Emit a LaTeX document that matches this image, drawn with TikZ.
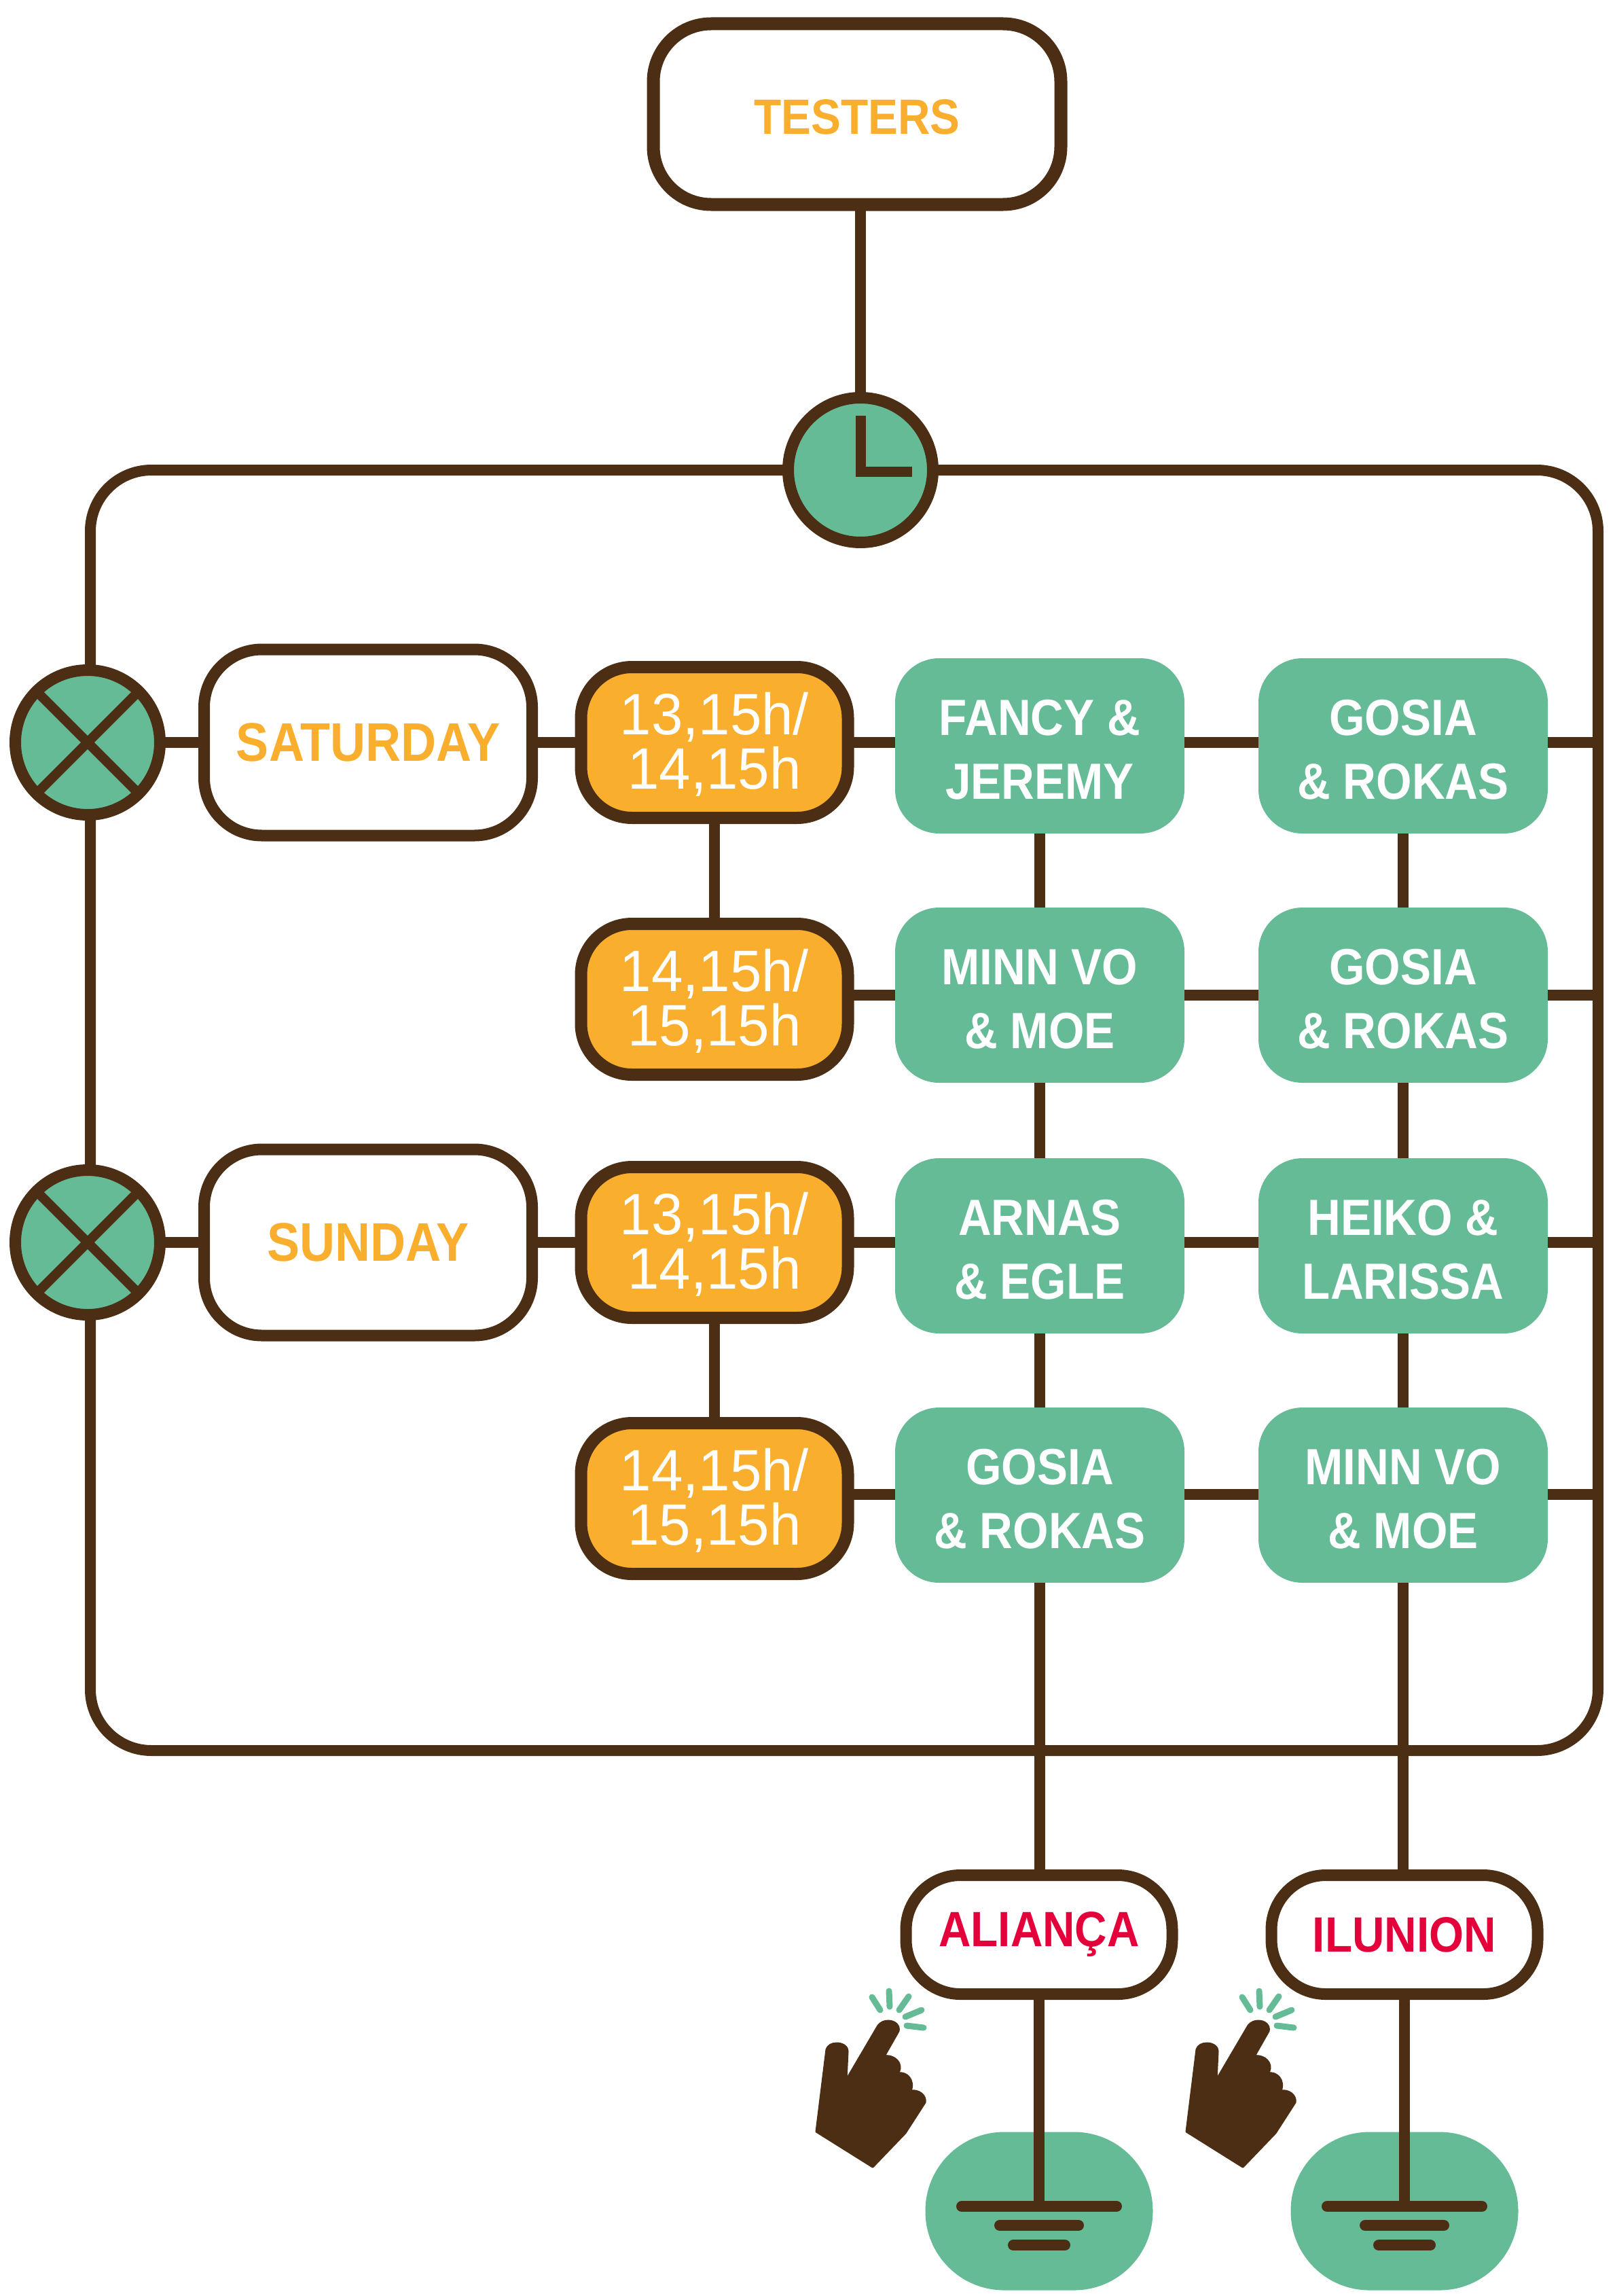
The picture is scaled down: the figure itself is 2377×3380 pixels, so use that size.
\documentclass[tikz,border=0pt]{standalone}
\usepackage{fontspec}
\usetikzlibrary{calc}
\newfontfamily\signfont[FakeStretch=0.97]{Liberation Sans}
\newfontfamily\signboldfont[FakeStretch=0.9]{Liberation Sans Bold}
\definecolor{wirebrown}{HTML}{4B2E14}
\definecolor{slotgreen}{HTML}{66BB97}
\definecolor{slotorange}{HTML}{F9AE2E}
\definecolor{sitered}{HTML}{E4003A}
\tikzset{x=1pt, y=-1pt,
  wire/.style={draw=wirebrown, line width=16pt},
  round box/.style={draw=wirebrown, fill=white, line width=17pt, inner sep=0pt, outer sep=0pt, align=center},
  day box/.style={round box, minimum width=483pt, minimum height=274pt, rounded corners=85pt,
     text=slotorange, font=\signboldfont\fontsize{80}{80}\selectfont},
  time box/.style={round box, line width=18pt, fill=slotorange, minimum width=393pt, minimum height=222pt, rounded corners=75pt,
     text=white, font=\signfont\fontsize{86}{80}\selectfont},
  team box/.style={fill=slotgreen, inner sep=0pt, outer sep=0pt, align=center, minimum width=426pt, minimum height=258pt,
     rounded corners=65pt, text=white, font=\signboldfont\fontsize{75}{94}\selectfont},
  site box/.style={round box, minimum width=392pt, minimum height=175pt, rounded corners=80pt,
     text=sitered, font=\signboldfont\fontsize{73}{80}\selectfont},
  dial/.style={circle, draw=wirebrown, fill=slotgreen, line width=17pt, inner sep=0pt, outer sep=0pt, minimum size=213pt},
  ground pad/.style={fill=slotgreen, inner sep=0pt, outer sep=0pt, minimum width=335pt, minimum height=233pt, rounded corners=116pt},
  ground bar/.style={draw=wirebrown, line width=16pt, line cap=round},
  spark/.style={draw=slotgreen, line width=9pt, line cap=round}
}
% one row of the timetable: name, wire y, time y, team y, hours, first team, second team
\def\SlotRow#1#2#3#4#5#6#7{%
  \node[time box] (time#1) at (1052,#3) {\rule{0pt}{68pt}#5};
  \node[team box] (teamA#1) at (1531,#4) {\rule{0pt}{64pt}#6};
  \node[team box] (teamB#1) at (2066,#4) {\rule{0pt}{64pt}#7};
  \coordinate (wire#1) at (0,#2);
  \draw[wire] (wire#1 -| time#1.east) -- (wire#1 -| teamA#1.west);
  \draw[wire] (wire#1 -| teamA#1.east) -- (wire#1 -| teamB#1.west);
  \draw[wire] (wire#1 -| teamB#1.east) -- (wire#1 -| frameSE);
}
% pointing hand with its sparks, shifted along x
\def\ClickHand#1{%
\begin{scope}[shift={(#1,2700)}]
  \filldraw[wirebrown, line width=3pt, line join=round] (135,490) -- (52,438) -- (67,317)
    .. controls (69,311) and (75,308) .. (82,308) .. controls (90,308) and (98,312) .. (98,320)
    -- (96,362) -- (143,282) .. controls (147,277) and (152,275) .. (158,275)
    .. controls (168,275) and (175,282) .. (173,290) -- (152,327)
    .. controls (162,325) and (176,332) .. (175,345) -- (173,352)
    .. controls (185,350) and (197,362) .. (191,378)
    .. controls (203,376) and (214,385) .. (212,395) -- (183,440) -- cycle;
  \foreach \a/\b/\c/\d in {134/240/146/259, 159/231/160/254, 188/239/174/259, 207/259/183/269, 210/285/185/282}
    \draw[spark] (\a,\b) -- (\c,\d);
\end{scope}
}
% earth symbol on a pad, fed from the site box above
\def\GroundPad#1#2#3{%
  \node[ground pad] (#1) at (#2,3255) {};
  \coordinate (#1bar) at (#2,3248);
  \draw[wire] (#3.south) -- (#1bar);
  \draw[ground bar] ($(#1bar)+(-114,0)$) -- +(228,0);
  \draw[ground bar] ($(#1bar)+(-58,28)$) -- +(116,0);
  \draw[ground bar] ($(#1bar)+(-38,57)$) -- +(76,0);
}
\begin{document}
\begin{tikzpicture}
\useasboundingbox (0,0) rectangle (2377,3380);
\coordinate (frameNW) at (133,692);
\coordinate (frameSE) at (2353,2577);
\draw[wire, rounded corners=90pt] (frameNW) rectangle (frameSE);

\node[round box, line width=19pt, minimum width=600pt, minimum height=266pt, rounded corners=85pt, text=slotorange,
  font=\signboldfont\fontsize{73}{80}\selectfont] (testers) at (1262,168) {\rule{0pt}{60pt}TESTERS};
\node[dial] (clock) at (1267,692) {};
\draw[wire] (testers.south -| clock.north) -- (clock.north);
\draw[wirebrown, line width=15pt, line join=miter] ($(clock.center)+(0,-80)$) -- ($(clock.center)+(0,2)$) -- ($(clock.center)+(76,2)$);

\node[dial] (crossSat) at (129,1093) {};
\node[dial] (crossSun) at (129,1829) {};
\foreach \n in {crossSat,crossSun} {
  \draw[wirebrown, line width=14pt] (\n.45) -- (\n.225);
  \draw[wirebrown, line width=14pt] (\n.135) -- (\n.315);
}
\node[day box] (saturday) at (542,1093) {SATURDAY};
\node[day box] (sunday) at (542,1829) {SUNDAY};
\draw[wire] (crossSat.east) -- (saturday.west);
\draw[wire] (crossSun.east) -- (sunday.west);

\SlotRow{1}{1093}{1093}{1098}{13,15h/\\14,15h}{FANCY \&\\JEREMY}{GOSIA\\\& ROKAS}
\SlotRow{2}{1465}{1471}{1465}{14,15h/\\15,15h}{MINN VO\\\& MOE}{GOSIA\\\& ROKAS}
\SlotRow{3}{1829}{1829}{1834}{13,15h/\\14,15h}{ARNAS\\\& EGLE}{HEIKO \&\\LARISSA}
\SlotRow{4}{2200}{2206}{2201}{14,15h/\\15,15h}{GOSIA\\\& ROKAS}{MINN VO\\\& MOE}

\draw[wire] (saturday.east) -- (time1.west);
\draw[wire] (sunday.east) -- (time3.west);
\draw[wire] (time1.south) -- (time2.north);
\draw[wire] (time3.south) -- (time4.north);
\foreach \c in {A,B}
  \foreach \a/\b in {1/2,2/3,3/4}
    \draw[wire] (team\c\a.south) -- (team\c\b.north);

\node[site box] (alianca) at (1530,2848) {ALIANÇA};
\node[site box] (ilunion) at (2068,2848) {ILUNION};
\draw[wire] (teamA4.south) -- (teamA4.south |- alianca.north);
\draw[wire] (teamB4.south) -- (teamB4.south |- ilunion.north);

\GroundPad{padA}{1530}{alianca}
\GroundPad{padB}{2068}{ilunion}
\ClickHand{1150}
\ClickHand{1695}
\end{tikzpicture}
\end{document}
